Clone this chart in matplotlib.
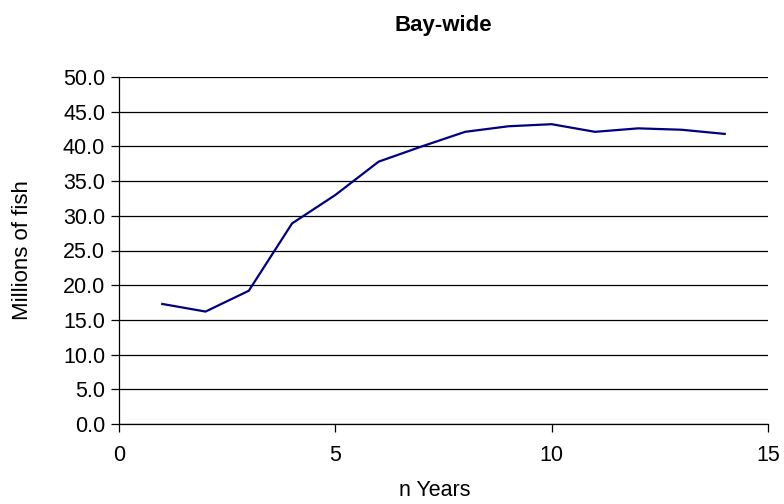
import matplotlib.pyplot as plt
from matplotlib.ticker import FormatStrFormatter

plt.rcParams['font.family'] = ['Liberation Sans', 'DejaVu Sans']

years = [1, 2, 3, 4, 5, 6, 7, 8, 9, 10, 11, 12, 13, 14]
fish = [17.3, 16.2, 19.2, 28.9, 33.0, 37.8, 40.0, 42.1, 42.9, 43.2, 42.1, 42.6, 42.4, 41.8]

fig = plt.figure(figsize=(7.84, 5.04), dpi=100)
ax = fig.add_axes([119 / 784, 80 / 504, (768 - 119) / 784, (424 - 77) / 504])

ax.plot(years, fish, color='#000080', linewidth=1.6)

ax.set_xlim(0, 15)
ax.set_ylim(0, 50)
ax.set_xticks([0, 5, 10, 15])
ax.set_yticks(range(0, 51, 5))
ax.yaxis.set_major_formatter(FormatStrFormatter('%.1f'))
ax.grid(axis='y', color='black', linewidth=0.9)
ax.set_axisbelow(True)

for s in ['top', 'right']:
    ax.spines[s].set_visible(False)
ax.spines['left'].set_linewidth(0.9)
ax.spines['bottom'].set_linewidth(0.9)
ax.tick_params(direction='out', length=6, width=0.9, labelsize=15.5, pad=4)
ax.tick_params(axis='x', pad=9)

ax.set_title('Bay-wide', fontsize=16, fontweight='bold', pad=33)
ax.set_ylabel('Millions of fish', fontsize=16, va='center')
ax.yaxis.set_label_coords(-0.149, 0.5)
ax.set_xlabel('n Years', fontsize=15.5, va='center')
ax.xaxis.set_label_coords(0.487, -0.193)

fig.savefig('out.png', dpi=100)
